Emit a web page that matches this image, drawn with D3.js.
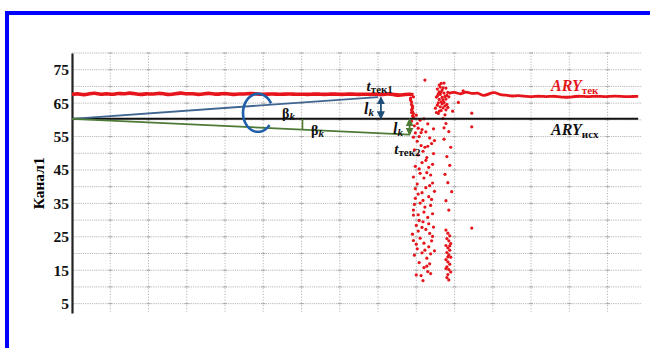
<!DOCTYPE html>
<html>
<head>
<meta charset="utf-8">
<script src="https://cdn.jsdelivr.net/npm/d3@7"></script>
<style>
  html, body { margin: 0; padding: 0; background: #fff; }
  svg { display: block; }
  text { font-family: "Liberation Serif", "Times New Roman", serif; }
</style>
</head>
<body>
<svg id="chart" width="650" height="348"></svg>
<script>
// Y axis ticks (value labels)
const yTicks = [5, 15, 25, 35, 45, 55, 65, 75];
// Reference level ARY_исх
const aryIsh = 60.3;
// Current level ARY_тек before the disturbance, one value every 6 samples from sample 0
const tekStep = 6;
const tekBefore = [67.6,67.9,67.4,67.8,68.1,67.5,67.9,67.5,68.0,67.7,68.1,67.8,67.5,67.9,67.6,68.0,67.8,67.5,67.8,68.1,
                   67.7,67.9,67.5,67.8,68.0,67.6,67.8,67.9,67.5,67.8,67.7,67.9,67.8,67.6,67.7,67.8,67.6,67.7,67.8,67.6,
                   67.7,67.6,67.7,67.7,67.6,67.7,67.7,67.6,67.7,67.7,67.6,67.7,67.6,67.7,67.5,67.8,67.6,67.3,67.6,67.7];
// Current level after recovery, one value every 6 samples from sample 394
const tekAfterStart = 394;
const tekAfter = [67.9,68.5,67.4,68.7,67.6,68.3,67.0,67.8,68.4,67.3,67.5,67.0,67.3,67.1,66.9,67.0,67.1,66.9,67.1,67.0,
                  66.7,66.8,67.0,67.1,66.9,67.0,67.1,66.9,67.0,67.1,67.0,66.9,67.0,67.0];
// Scattered readings during the disturbance: [sample, value]
const tekScatter = [
  [354,66.5],[355,65.4],[356,64.1],[355,63.0],[357,61.9],[356,62.5],[357,60.8],[355,59.6],[358,58.2],[360,61.4],
  [354,65.9],[355,64.6],[356,63.5],[355,62.2],[356,61.2],[357,66.9],
  [362,57.5],[359,56.1],[364,59.9],[357,54.8],[361,53.6],[366,57.1],[363,55.0],[368,60.3],[370,56.4],[365,52.3],
  [358,51.0],[372,58.8],[374,54.6],[369,51.8],[362,49.5],[376,52.9],[371,48.7],[366,47.2],[359,46.1],[378,49.9],
  [373,45.8],[364,44.0],[368,42.6],[375,43.5],[357,42.9],[361,40.8],[370,39.7],[377,41.1],[366,38.2],[373,37.0],
  [359,36.5],[364,35.1],[379,38.6],[369,33.9],[375,34.4],[357,33.0],[362,31.6],[372,30.8],[367,29.5],[377,31.9],
  [360,28.4],[370,27.2],[374,26.0],[356,25.8],[364,24.6],[378,27.9],[368,23.1],[373,22.0],[361,21.4],[366,20.2],
  [376,23.8],[358,19.5],[371,18.6],[363,17.3],[375,19.9],[368,15.8],[372,14.6],[365,13.4],[367,11.9],[374,16.9],
  [360,22.8],[379,20.8],[357,31.5],[360,13.6],[363,45.3],[367,50.6],[371,44.2],[374,40.3],[362,37.8],[376,36.2],
  [358,34.7],[368,32.4],[373,28.9],[377,25.1],[362,26.7],[369,21.0],[357,23.9],[371,16.2],[375,14.0],[366,27.8],
  [359,39.4],[372,52.1],[365,56.2],[361,58.9],[370,47.9],[377,46.7],[378,57.3],[379,53.8],[367,35.9],[363,29.9],
  [391,58.9],[394,56.5],[389,54.2],[396,51.8],[392,49.0],[395,46.4],[390,43.7],[393,41.2],[397,38.5],[391,35.8],
  [394,33.0],[391,27.0],[393,26.1],[395,25.3],[392,24.5],[394,23.8],[396,23.0],[391,22.4],[393,21.7],[395,21.0],
  [392,20.3],[394,19.6],[396,18.9],[391,18.2],[393,17.5],[395,16.8],[392,16.0],[394,15.2],[396,14.5],[393,13.7],
  [392,12.8],[394,12.1],[395,22.3],[393,19.0],[391,15.5],[388,60.4],[389,57.6],
  [380,63.5],[381,66.8],[382,69.2],[383,65.1],[384,70.4],[385,67.6],[386,62.8],[387,68.9],[388,66.0],[389,71.0],
  [390,64.2],[391,69.5],[392,67.3],[383,61.9],[386,65.4],[388,63.6],[390,61.5],[385,69.8],[387,64.8],[381,62.2],
  [384,66.1],[389,68.0],[391,63.0],[386,70.9],[382,64.4],[384,68.4],[385,63.9],[387,66.7],[388,69.6],[390,67.0],
  [383,67.8],[386,68.3],[389,65.2],[391,66.2],[392,64.6],[393,68.2],[394,66.9],[393,63.7],[382,67.1],[384,62.6],
  [369,71.9],[418,62.0],[418,57.9],[418,27.6],[404,65.2],[409,68.7],[398,62.6]
];
// Trend lines from the origin sample to t_тек1 and t_тек2
const trendStart = [0, aryIsh];
const trendBlue = [320, 66.8];
const trendGreen = [353, 55.6];

const svg = d3.select("#chart");
const W = 650, H = 348;

// Frame
svg.append("rect").attr("width", W).attr("height", H).attr("fill", "#fff");
svg.append("rect").attr("x", 5).attr("y", 11).attr("width", W - 5).attr("height", 4).attr("fill", "#0000ff");
svg.append("rect").attr("x", 5).attr("y", 11).attr("width", 4).attr("height", H - 11).attr("fill", "#0000ff");

const x = d3.scaleLinear().domain([0, 596]).range([72, 642]);
const y = d3.scaleLinear().domain([2.2, 80]).range([313, 53]);

// Grid
const grid = svg.append("g");
const hGrid = d3.range(5, 81, 5);
const vGrid = d3.range(40, 561, 40);
grid.selectAll(".hg").data(hGrid).join("line")
  .attr("x1", x(0)).attr("x2", x(596)).attr("y1", d => y(d)).attr("y2", d => y(d))
  .attr("stroke", "#b8b8b8").attr("stroke-width", 1).attr("stroke-dasharray", "1.2,1");
grid.selectAll(".vg").data(vGrid).join("line")
  .attr("x1", d => x(d)).attr("x2", d => x(d)).attr("y1", y(80)).attr("y2", y(2.2))
  .attr("stroke", "#b8b8b8").attr("stroke-width", 1).attr("stroke-dasharray", "1.2,1.6");
// small crosses where grid lines meet
const cross = [];
vGrid.forEach(a => hGrid.forEach(b => cross.push([a, b])));
grid.selectAll(".cx").data(cross).join("line")
  .attr("x1", d => x(d[0]) - 2).attr("x2", d => x(d[0]) + 2)
  .attr("y1", d => y(d[1])).attr("y2", d => y(d[1]))
  .attr("stroke", "#a8a8a8").attr("stroke-width", 1);

// Y axis
const yAxis = d3.axisLeft(y).tickValues(yTicks).tickSize(0).tickPadding(3);
const ya = svg.append("g").attr("transform", `translate(${x(0)},0)`).call(yAxis);
ya.select(".domain").attr("stroke", "#222").attr("stroke-width", 2.2);
ya.selectAll("text").attr("font-family", "Liberation Serif, serif").attr("font-size", 15.5)
  .attr("font-weight", "bold").attr("fill", "#111");

svg.append("text")
  .attr("transform", `translate(44,${y(41)}) rotate(-90)`)
  .attr("text-anchor", "middle").attr("font-size", 15.5).attr("font-weight", "bold")
  .text("Канал1");

// ARY_тек line
const red = "#e5151b";
const line = d3.line().x(d => x(d[0])).y(d => y(d[1]));
const smooth = d3.line().x(d => x(d[0])).y(d => y(d[1])).curve(d3.curveBasis);
const before = tekBefore.map((v, i) => [i * tekStep, v]);
before.push([357, 67.5]);
const after = tekAfter.map((v, i) => [tekAfterStart + i * tekStep, v]);
svg.append("path").datum(before).attr("d", smooth)
  .attr("fill", "none").attr("stroke", red).attr("stroke-width", 3.6).attr("stroke-linejoin", "round");
svg.append("path").datum(after).attr("d", smooth)
  .attr("fill", "none").attr("stroke", red).attr("stroke-width", 2.8).attr("stroke-linejoin", "round");
svg.append("g").selectAll("circle").data(tekScatter).join("circle")
  .attr("cx", d => x(d[0])).attr("cy", d => y(d[1])).attr("r", 1.6).attr("fill", red);

// ARY_исх reference line
svg.append("line").attr("x1", x(0)).attr("x2", x(592)).attr("y1", y(aryIsh)).attr("y2", y(aryIsh))
  .attr("stroke", "#111").attr("stroke-width", 2);

// Trend lines
const blue = "#3f6590", green = "#4d7a35";
svg.append("path").datum([trendStart, trendBlue]).attr("d", line)
  .attr("stroke", blue).attr("stroke-width", 1.8).attr("fill", "none");
svg.append("path").datum([trendStart, trendGreen]).attr("d", line)
  .attr("stroke", green).attr("stroke-width", 1.8).attr("fill", "none");

// angle marker on the lower trend
const tickS = 241;
const gy = trendStart[1] + (trendGreen[1] - trendStart[1]) * tickS / trendGreen[0];
svg.append("line").attr("x1", x(tickS)).attr("x2", x(tickS)).attr("y1", y(aryIsh)).attr("y2", y(gy))
  .attr("stroke", green).attr("stroke-width", 1.6);

// angle arc (open ellipse), swept from lower-right round the left side to upper-right
const ec = [x(194.5), y(62.1)], erx = 15, ery = 19;
const arcPts = d3.range(40, 331, 5).map(a => {
  const r = a * Math.PI / 180;
  return [ec[0] + erx * Math.cos(r), ec[1] + ery * Math.sin(r)];
});
svg.append("path").attr("d", d3.line()(arcPts))
  .attr("fill", "none").attr("stroke", "#1f5fa8").attr("stroke-width", 2.6);

// double arrows for l_k
const defs = svg.append("defs");
function marker(id, color) {
  defs.append("marker").attr("id", id).attr("viewBox", "0 0 10 10").attr("refX", 8).attr("refY", 5)
    .attr("markerWidth", 4.5).attr("markerHeight", 4.5).attr("orient", "auto-start-reverse")
    .append("path").attr("d", "M0,0 L10,5 L0,10 Z").attr("fill", color);
}
marker("ab", "#1f4e79");
marker("ag", green);
svg.append("line").attr("x1", x(323)).attr("x2", x(323)).attr("y1", y(66.6)).attr("y2", y(aryIsh) - 1)
  .attr("stroke", "#1f4e79").attr("stroke-width", 1.8)
  .attr("marker-start", "url(#ab)").attr("marker-end", "url(#ab)");
svg.append("line").attr("x1", x(353)).attr("x2", x(353)).attr("y1", y(aryIsh) + 1).attr("y2", y(55.7))
  .attr("stroke", green).attr("stroke-width", 1.8)
  .attr("marker-start", "url(#ag)").attr("marker-end", "url(#ag)");

// Annotation labels
function label(px, py, parts, color) {
  const t = svg.append("text").attr("x", px).attr("y", py).attr("fill", color || "#111")
    .attr("font-weight", "bold");
  parts.forEach(p => {
    t.append("tspan").text(p.t).attr("font-size", p.s)
      .attr("font-style", p.i ? "italic" : "normal")
      .attr("dy", p.dy || 0);
  });
  return t;
}
label(x(308), 91, [{t: "t", s: 15, i: true}, {t: "тек1", s: 11, dy: 2}]);
label(x(337), 154, [{t: "t", s: 15, i: true}, {t: "тек2", s: 11, dy: 2}]);
label(282, 118, [{t: "β", s: 14}, {t: "k", s: 11, i: true, dy: 2}]);
label(311, 135, [{t: "β", s: 14}, {t: "k", s: 11, i: true, dy: 2}]);
label(364, 114, [{t: "l", s: 16, i: true}, {t: "k", s: 11, i: true, dy: 2}]);
label(393, 134, [{t: "l", s: 16, i: true}, {t: "k", s: 11, i: true, dy: 2}]);
label(551, 91, [{t: "ARY", s: 16, i: true}, {t: "тек", s: 11, dy: 3}], red);
label(551, 135, [{t: "ARY", s: 16, i: true}, {t: "исх", s: 11, dy: 3}], "#111");
</script>
</body>
</html>
